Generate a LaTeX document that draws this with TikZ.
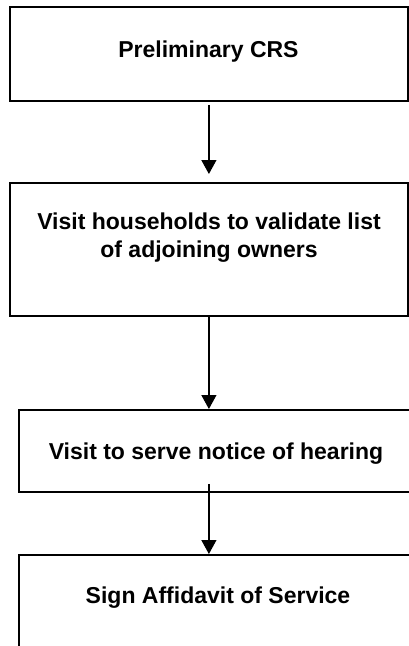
\documentclass[tikz,border=0pt]{standalone}
\usepackage{fontspec}
\setmainfont{Liberation Sans}
\usetikzlibrary{arrows.meta,calc}

\tikzset{
  stepbox/.style={draw=black, line width=1.8pt, rectangle, inner sep=0pt,
    anchor=north west},
  steptext/.style={font=\bfseries\fontsize{23}{28}\selectfont, inner sep=0pt,
    anchor=base, align=center},
  flow/.style={draw=black, line width=1.3pt,
    -{Triangle[width=15pt,length=14pt]}}
}

\begin{document}
\begin{tikzpicture}[x=1pt,y=1pt]
  \useasboundingbox (0,0) rectangle (408,-646);

  % process boxes
  \node[stepbox, minimum width=398pt, minimum height=94pt]  (box1) at (9,-6)   {};
  \node[stepbox, minimum width=398pt, minimum height=133pt] (box2) at (9,-182) {};
  \node[stepbox, minimum width=398pt, minimum height=82pt]  (box3) at (18,-409) {};
  \node[stepbox, minimum width=398pt, minimum height=110pt] (box4) at (18,-554) {};

  % labels (the base anchor of a two-line label sits on its last line)
  \node[steptext] (t1) at (208.5,-57)  {Preliminary CRS};
  \node[steptext] (t2) at (209,-257)   {Visit households to validate list\\of adjoining owners};
  \node[steptext] (t3) at (216,-459)   {Visit to serve notice of hearing};
  \node[steptext] (t4) at (218,-603)   {Sign Affidavit of Service};

  % connectors
  \coordinate (c3) at ($(box2.south |- box3.south)+(0,9)$);
  \draw[flow] ([yshift=-3pt]box1.south) -- ([yshift=8pt]box2.north);
  \draw[flow] (box2.south) -- (box2.south |- box3.north);
  \draw[flow] (c3) -- (box2.south |- box4.north);
\end{tikzpicture}
\end{document}
